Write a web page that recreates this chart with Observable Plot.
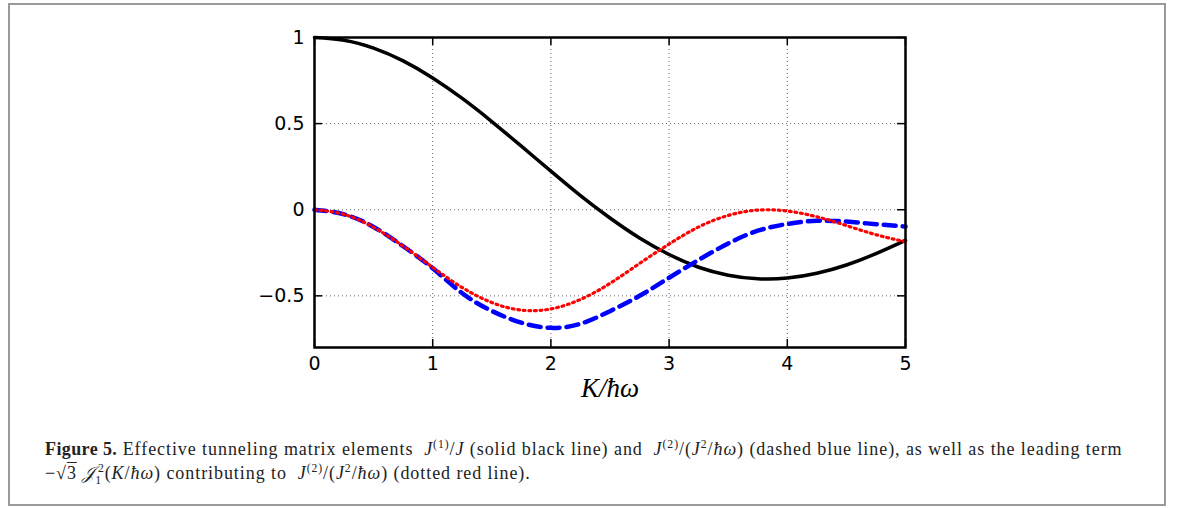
<!DOCTYPE html>
<html>
<head>
<meta charset="utf-8">
<script src="https://cdn.jsdelivr.net/npm/d3@7"></script>
<script src="https://cdn.jsdelivr.net/npm/@observablehq/plot@0.6"></script>
<style>
  html, body { margin: 0; padding: 0; background: #fff; }
  body { width: 1182px; height: 508px; position: relative; overflow: hidden; }
  #frame { position: absolute; left: 8px; top: 3px; width: 1154px; height: 499px; border: 2px solid #9a9a9a; }
  #chart { position: absolute; left: 0; top: 0; }
  #caption { position: absolute; left: 45px; top: 437px; width: 1115px; font-family: "Liberation Serif", "DejaVu Serif", serif; font-size: 18px; letter-spacing: 0.93px; line-height: 24px; color: #222; white-space: nowrap; }
  #caption b { font-weight: bold; letter-spacing: 0.4px; }
  #caption i { font-style: italic; }
  #caption sup, #caption sub { font-size: 0.65em; line-height: 0; }
  .ov { text-decoration: overline; }
</style>
</head>
<body>
<div id="frame"></div>
<div id="chart"></div>
<div id="caption"><b>Figure 5.</b> Effective tunneling matrix elements &nbsp;<i>J</i><sup>(1)</sup>/<i>J</i> (solid black line) and &nbsp;<i>J</i><sup>(2)</sup>/(<i>J</i><sup>2</sup>/<i>ħω</i>) (dashed blue line), as well as the leading term<br>−√<span class="ov">3</span> <i>𝒥</i><sub>1</sub><sup style="margin-left:-0.35em">2</sup>(<i>K</i>/<i>ħω</i>) contributing to &nbsp;<i>J</i><sup>(2)</sup>/(<i>J</i><sup>2</sup>/<i>ħω</i>) (dotted red line).</div>
<script>
// x grid (K / ħω)
const K = [0, 0.25, 0.5, 0.75, 1.0, 1.25, 1.5, 1.75, 2.0, 2.25, 2.5, 2.75, 3.0, 3.25, 3.5, 3.75, 4.0, 4.25, 4.5, 4.75, 5.0];
// solid black: J(1)/J
const blackSolid = [1.0, 0.984, 0.938, 0.864, 0.765, 0.646, 0.512, 0.369, 0.224, 0.082, -0.048, -0.164, -0.260, -0.334, -0.380, -0.401, -0.397, -0.369, -0.321, -0.255, -0.178];
// dashed blue: J(2)/(J^2/ħω)
const blueDashed = [0.0, -0.027, -0.100, -0.212, -0.340, -0.485, -0.588, -0.656, -0.686, -0.662, -0.589, -0.500, -0.395, -0.291, -0.196, -0.122, -0.083, -0.064, -0.069, -0.084, -0.098];
// dotted red: leading term
const redDotted = [0.0, -0.027, -0.102, -0.211, -0.335, -0.452, -0.539, -0.583, -0.576, -0.521, -0.428, -0.312, -0.199, -0.100, -0.033, -0.002, -0.008, -0.041, -0.092, -0.145, -0.186];

const xTicks = [0, 1, 2, 3, 4, 5];
const xTickLabels = ["0", "1", "2", "3", "4", "5"];
const yTicks = [-0.5, 0, 0.5, 1];
const yTickLabels = ["−0.5", "0", "0.5", "1"];
const xLabel = "K/ħω";

const rows = (vals, name) => K.map((k, i) => ({k, v: vals[i], s: name}));

const W = 1182, H = 410, mL = 314, mR = 277, mT = 37, mB = 63;
const pw = W - mL - mR, ph = H - mT - mB;

const chart = Plot.plot({
  width: W, height: H,
  marginLeft: mL, marginRight: mR, marginTop: mT, marginBottom: mB,
  style: {fontFamily: "DejaVu Sans", fontSize: "19px", color: "#000", background: "transparent"},
  x: {domain: [0, 5]},
  y: {domain: [-0.8, 1]},
  marks: [
    Plot.gridX(xTicks, {stroke: "#666", strokeOpacity: 1, strokeWidth: 1, strokeDasharray: "1,3"}),
    Plot.gridY(yTicks, {stroke: "#666", strokeOpacity: 1, strokeWidth: 1, strokeDasharray: "1,3"}),
    Plot.axisX(xTicks, {tickSize: 0, tickPadding: 9, tickFormat: (d, i) => xTickLabels[i], label: null, fontSize: 19}),
    Plot.axisY(yTicks, {tickSize: 0, tickPadding: 10, tickFormat: (d, i) => yTickLabels[i], label: null, fontSize: 19}),
    Plot.tickX(xTicks, {x: d => d, insetTop: ph - 8, stroke: "#000", strokeWidth: 1.5}),
    Plot.tickX(xTicks, {x: d => d, insetBottom: ph - 8, stroke: "#000", strokeWidth: 1.5}),
    Plot.tickY(yTicks, {y: d => d, insetRight: pw - 8, stroke: "#000", strokeWidth: 1.5}),
    Plot.tickY(yTicks, {y: d => d, insetLeft: pw - 8, stroke: "#000", strokeWidth: 1.5}),
    Plot.line(rows(blackSolid, "black"), {x: "k", y: "v", stroke: "#000", strokeWidth: 3.5, curve: "natural"}),
    Plot.line(rows(blueDashed, "blue"), {x: "k", y: "v", stroke: "#0000ff", strokeWidth: 4.5, strokeDasharray: "12,7", curve: "natural"}),
    Plot.line(rows(redDotted, "red"), {x: "k", y: "v", stroke: "#ff0000", strokeWidth: 3.2, strokeDasharray: "1.8,3.8", curve: "natural"}),
    Plot.frame({stroke: "#000", strokeWidth: 2.5}),
    Plot.text([xLabel], {text: d => d, frameAnchor: "bottom", dy: 41, lineAnchor: "middle", fontFamily: "Liberation Serif", fontStyle: "italic", fontSize: 27, fill: "#000"})
  ]
});
document.getElementById("chart").append(chart);
</script>
</body>
</html>
